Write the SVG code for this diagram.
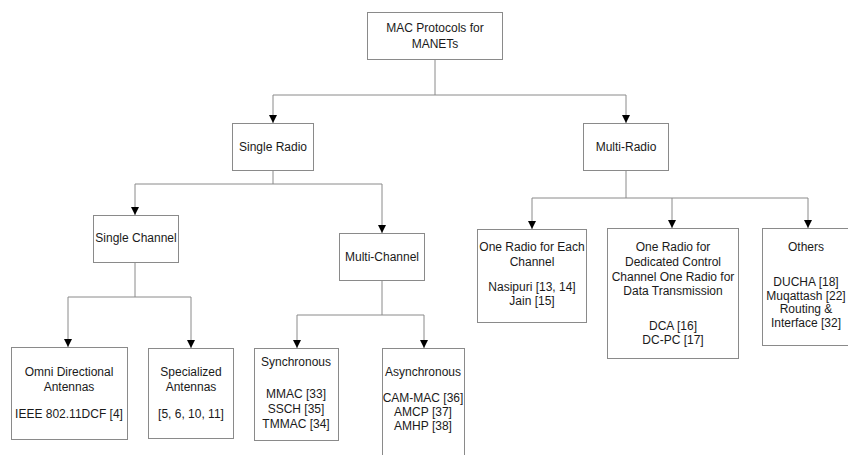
<svg xmlns="http://www.w3.org/2000/svg" width="848" height="455" viewBox="0 0 848 455">
<style>
.box{fill:#fff;stroke:#8a8a8a;stroke-width:1}
.c{fill:none;stroke:#8a8a8a;stroke-width:1}
text{font-family:"Liberation Sans",Arial,sans-serif;font-size:12px;fill:#1a1a1a;text-anchor:middle}
</style>
<defs>
<marker id="ah" markerUnits="userSpaceOnUse" markerWidth="8" markerHeight="9" refX="8" refY="4" orient="auto" viewBox="0 0 8 8">
<path d="M0,0 L8,4 L0,8 Z" fill="#000"/>
</marker>
</defs>
<rect width="848" height="455" fill="#fff"/>
<g id="connectors">
<path class="c" d="M435,59 V95"/>
<path class="c" d="M273,95 H626"/>
<path class="c" d="M273,95 V123" marker-end="url(#ah)"/>
<path class="c" d="M626,95 V123" marker-end="url(#ah)"/>
<path class="c" d="M273,170 V184 M135,184 H382"/>
<path class="c" d="M135,184 V215" marker-end="url(#ah)"/>
<path class="c" d="M382,184 V233" marker-end="url(#ah)"/>
<path class="c" d="M135,262 V297 M68,297 H191"/>
<path class="c" d="M68,297 V347" marker-end="url(#ah)"/>
<path class="c" d="M191,297 V348" marker-end="url(#ah)"/>
<path class="c" d="M382,280 V315 M297,315 H424"/>
<path class="c" d="M297,315 V348" marker-end="url(#ah)"/>
<path class="c" d="M424,315 V348" marker-end="url(#ah)"/>
<path class="c" d="M626,170 V198 M532,198 H808"/>
<path class="c" d="M532,198 V229" marker-end="url(#ah)"/>
<path class="c" d="M672,198 V228" marker-end="url(#ah)"/>
<path class="c" d="M808,198 V228" marker-end="url(#ah)"/>
</g>
<g id="root">
<rect class="box" x="367.5" y="12.5" width="135" height="47"/>
<text x="435" y="32">MAC Protocols for</text>
<text x="435" y="48">MANETs</text>
</g>
<g id="single-radio">
<rect class="box" x="232.5" y="123.5" width="81" height="47"/>
<text x="273" y="151">Single Radio</text>
</g>
<g id="multi-radio">
<rect class="box" x="583.5" y="123.5" width="85" height="47"/>
<text x="626" y="151">Multi-Radio</text>
</g>
<g id="single-channel">
<rect class="box" x="93.5" y="215.5" width="85" height="47"/>
<text x="136" y="242">Single Channel</text>
</g>
<g id="multi-channel">
<rect class="box" x="339.5" y="233.5" width="85" height="47"/>
<text x="382" y="261">Multi-Channel</text>
</g>
<g id="omni">
<rect class="box" x="11.5" y="347.5" width="116" height="92"/>
<text x="69" y="376">Omni Directional</text>
<text x="69" y="391">Antennas</text>
<text x="69" y="418">IEEE 802.11DCF [4]</text>
</g>
<g id="specialized">
<rect class="box" x="148.5" y="348.5" width="85" height="90"/>
<text x="191" y="376">Specialized</text>
<text x="191" y="391">Antennas</text>
<text x="191" y="418">[5, 6, 10, 11]</text>
</g>
<g id="synchronous">
<rect class="box" x="254.5" y="348.5" width="84" height="92"/>
<text x="296" y="366">Synchronous</text>
<text x="296" y="398">MMAC [33]</text>
<text x="296" y="413">SSCH [35]</text>
<text x="296" y="428">TMMAC [34]</text>
</g>
<g id="asynchronous">
<rect class="box" x="382.5" y="348.5" width="82" height="110"/>
<text x="423" y="376">Asynchronous</text>
<text x="423" y="402">CAM-MAC [36]</text>
<text x="423" y="416">AMCP [37]</text>
<text x="423" y="430">AMHP [38]</text>
</g>
<g id="one-radio-each">
<rect class="box" x="477.5" y="229.5" width="109" height="93"/>
<text x="532" y="251">One Radio for Each</text>
<text x="532" y="266">Channel</text>
<text x="532" y="291">Nasipuri [13, 14]</text>
<text x="532" y="305">Jain [15]</text>
</g>
<g id="dedicated">
<rect class="box" x="607.5" y="228.5" width="131" height="130"/>
<text x="673" y="251">One Radio for</text>
<text x="673" y="266">Dedicated Control</text>
<text x="673" y="281">Channel One Radio for</text>
<text x="673" y="295">Data Transmission</text>
<text x="673" y="330">DCA [16]</text>
<text x="673" y="344">DC-PC [17]</text>
</g>
<g id="others">
<rect class="box" x="762.5" y="228.5" width="90" height="117"/>
<text x="806" y="251">Others</text>
<text x="806" y="286">DUCHA [18]</text>
<text x="806" y="300">Muqattash [22]</text>
<text x="806" y="313">Routing &amp;</text>
<text x="806" y="327">Interface [32]</text>
</g>
</svg>
